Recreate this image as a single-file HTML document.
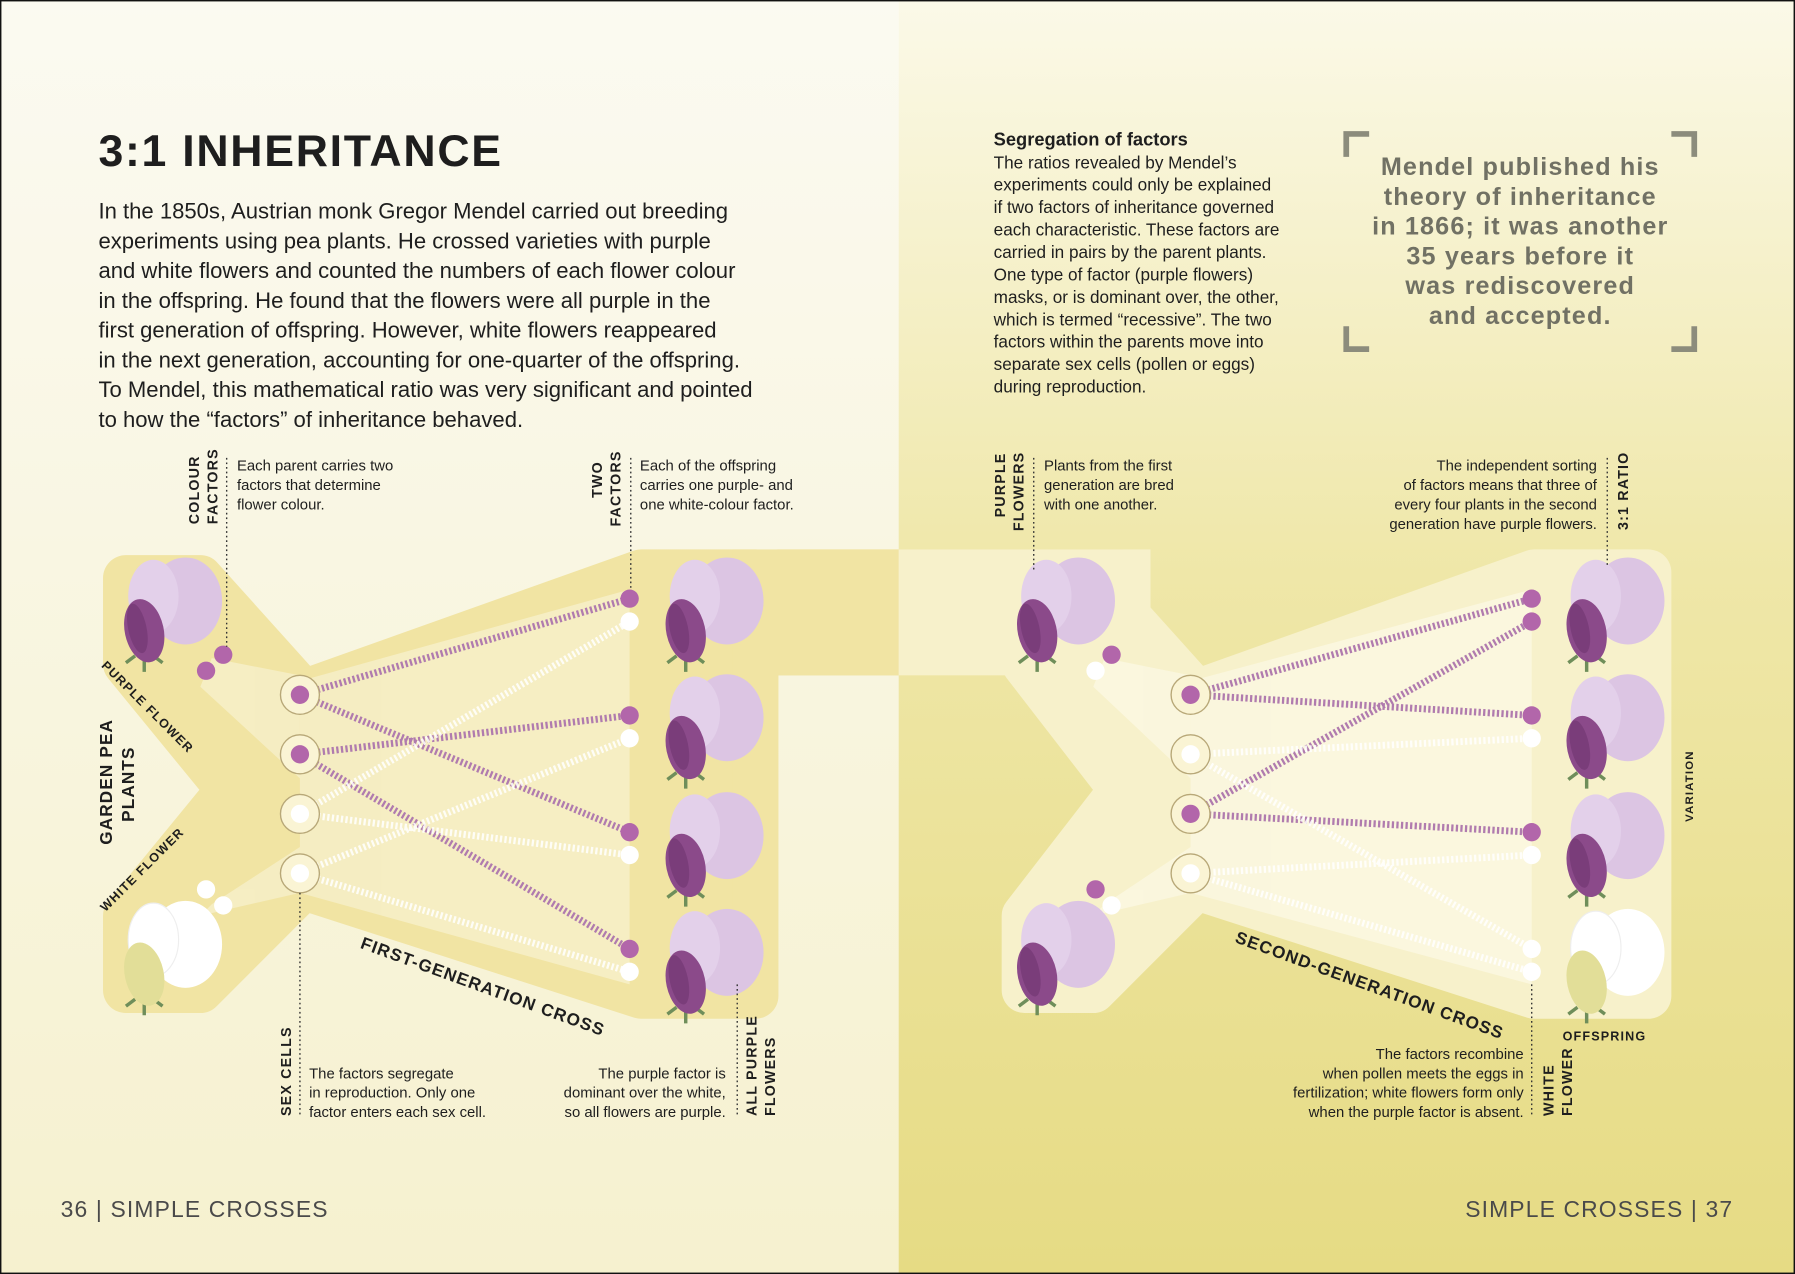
<!DOCTYPE html>
<html><head><meta charset="utf-8"><style>
html,body{margin:0;padding:0;background:#fff}
svg{display:block}
text{font-family:"Liberation Sans",sans-serif;fill:#1e1e1e}
.b{font-size:19.3px}
.s{font-size:13px}
.r{font-size:15px}
.v{font-size:12.5px;font-weight:bold;letter-spacing:1px}
text.q,.q text{font-size:22px;font-weight:bold;fill:#717164;letter-spacing:1px}
</style></head><body>
<svg width="1795" height="1274" viewBox="0 0 1568 1113" preserveAspectRatio="none" xmlns="http://www.w3.org/2000/svg">
<defs>
<linearGradient id="gl" x1="0" y1="0" x2="0" y2="1"><stop offset="0" stop-color="#fbfaf1"/><stop offset="1" stop-color="#f6f1cf"/></linearGradient>
<linearGradient id="gr" x1="0" y1="0" x2="0" y2="1"><stop offset="0" stop-color="#fbf9e8"/><stop offset="0.45" stop-color="#efe7a8"/><stop offset="1" stop-color="#e6db84"/></linearGradient>
<g id="fp"><ellipse cx="22" cy="-10" rx="32" ry="38" fill="#dcc5e3"/><ellipse cx="-6" cy="-14" rx="22" ry="32" fill="#e3d0ea"/><path d="M-22 38 l-8 6 M-14 40 l0 12 M-6 38 l8 6" stroke="#6f8e5a" stroke-width="3"/><ellipse cx="-14" cy="16" rx="17" ry="28" fill="#8b4a8a" transform="rotate(-12 -14 16)"/><ellipse cx="-20" cy="14" rx="8" ry="22" fill="#7a3d7a" transform="rotate(-12 -20 14)"/></g>
<g id="fw"><ellipse cx="22" cy="-10" rx="32" ry="38" fill="#fff"/><ellipse cx="-6" cy="-14" rx="22" ry="32" fill="#fff" stroke="#eee" /><path d="M-22 38 l-8 6 M-14 40 l0 12 M-6 38 l8 6" stroke="#6f8e5a" stroke-width="3"/><ellipse cx="-14" cy="16" rx="17" ry="28" fill="#e2de98" transform="rotate(-12 -14 16)"/></g>
</defs>
<rect x="0" y="0" width="785" height="1113" fill="url(#gl)"/>
<rect x="785" y="0" width="783" height="1113" fill="url(#gr)"/>
<rect x="0.5" y="0.5" width="1567" height="1112" fill="none" stroke="#111" stroke-width="1.5"/>

<g fill="#f1e4a3" stroke="#f1e4a3" stroke-width="40" stroke-linejoin="round">
<polygon points="110,505 175,505 265,605 560,500 660,500 660,870 560,870 265,775 175,865 110,865 110,800 200,690 110,580"/>
<rect x="680" y="500" width="300" height="70"/>
</g>
<rect x="640" y="480" width="150" height="110" fill="#f1e4a3"/>
<g fill="#f7f1cb" stroke="#f7f1cb" stroke-width="40" stroke-linejoin="round">
<polygon points="895,505 955,505 1045,605 1340,500 1440,500 1440,870 1340,870 1045,775 955,865 895,865 895,800 980,690 895,580"/>
</g>
<rect x="785" y="480" width="220" height="110" fill="#f7f1cb"/>
<g fill="#f8f2d0" opacity="0.7">
<polygon points="185,575 262,590 262,680 175,600"/><polygon points="185,790 262,740 262,780 175,800"/>
<polygon points="262,595 550,515 550,860 262,780"/>
</g>
<g fill="#fcf9e6" opacity="0.7">
<polygon points="965,575 1040,590 1040,680 955,600"/><polygon points="965,790 1040,740 1040,780 955,800"/>
<polygon points="1040,595 1338,515 1338,860 1040,780"/>
</g>
<g stroke-width="6" stroke-dasharray="2 2" fill="none">
<g stroke="#b07bae"><path d="M262 607L550 523M262 607L550 727M262 659L550 625M262 659L550 829"/>
<path d="M1040 607L1338 523M1040 607L1338 625M1040 711L1338 543M1040 711L1338 727"/></g>
<g stroke="#ffffff" opacity="0.85"><path d="M262 711L550 543M262 711L550 747M262 763L550 645M262 763L550 849"/>
<path d="M1040 659L1338 645M1040 659L1338 829M1040 763L1338 747M1040 763L1338 849"/></g>
</g>
<g fill="#faf4d4" stroke="#b8a878" stroke-width="1.2">
<circle cx="262" cy="607" r="17"/><circle cx="262" cy="659" r="17"/><circle cx="262" cy="711" r="17"/><circle cx="262" cy="763" r="17"/>
<circle cx="1040" cy="607" r="17"/><circle cx="1040" cy="659" r="17"/><circle cx="1040" cy="711" r="17"/><circle cx="1040" cy="763" r="17"/>
</g>
<g fill="#b266aa">
<circle cx="262" cy="607" r="8"/><circle cx="262" cy="659" r="8"/><circle cx="1040" cy="607" r="8"/><circle cx="1040" cy="711" r="8"/>
<circle cx="195" cy="572" r="8"/><circle cx="180" cy="586" r="8"/><circle cx="971" cy="572" r="8"/><circle cx="957" cy="777" r="8"/>
<circle cx="550" cy="523" r="8"/><circle cx="550" cy="625" r="8"/><circle cx="550" cy="727" r="8"/><circle cx="550" cy="829" r="8"/>
<circle cx="1338" cy="523" r="8"/><circle cx="1338" cy="543" r="8"/><circle cx="1338" cy="625" r="8"/><circle cx="1338" cy="727" r="8"/>
</g>
<g fill="#fff">
<circle cx="262" cy="711" r="8"/><circle cx="262" cy="763" r="8"/><circle cx="1040" cy="659" r="8"/><circle cx="1040" cy="763" r="8"/>
<circle cx="180" cy="777" r="8"/><circle cx="195" cy="791" r="8"/><circle cx="957" cy="586" r="8"/><circle cx="971" cy="791" r="8"/>
<circle cx="550" cy="543" r="8"/><circle cx="550" cy="645" r="8"/><circle cx="550" cy="747" r="8"/><circle cx="550" cy="849" r="8"/>
<circle cx="1338" cy="645" r="8"/><circle cx="1338" cy="747" r="8"/><circle cx="1338" cy="829" r="8"/><circle cx="1338" cy="849" r="8"/>
</g>
<use href="#fp" x="140" y="535"/><use href="#fw" x="140" y="835"/>
<use href="#fp" x="613" y="535"/><use href="#fp" x="613" y="637"/><use href="#fp" x="613" y="740"/><use href="#fp" x="613" y="842"/>
<use href="#fp" x="920" y="535"/><use href="#fp" x="920" y="835"/>
<use href="#fp" x="1400" y="535"/><use href="#fp" x="1400" y="637"/><use href="#fp" x="1400" y="740"/><use href="#fw" x="1400" y="842"/>

<g stroke="#333" stroke-width="1.2" stroke-dasharray="1.5 2.5" fill="none">
<path d="M198 400V565M551 400V515M903 400V500M1404 400V495M262 780V975M644 860V975M1338 860V975"/>
</g>

<text x="86" y="145" style="font-size:39px;font-weight:bold;letter-spacing:1.5px">3:1 INHERITANCE</text>
<g class="b">
<text x="86" y="191">In the 1850s, Austrian monk Gregor Mendel carried out breeding</text>
<text x="86" y="217">experiments using pea plants. He crossed varieties with purple</text>
<text x="86" y="243">and white flowers and counted the numbers of each flower colour</text>
<text x="86" y="269">in the offspring. He found that the flowers were all purple in the</text>
<text x="86" y="295">first generation of offspring. However, white flowers reappeared</text>
<text x="86" y="321">in the next generation, accounting for one-quarter of the offspring.</text>
<text x="86" y="347">To Mendel, this mathematical ratio was very significant and pointed</text>
<text x="86" y="373">to how the “factors” of inheritance behaved.</text>
</g>
<text x="868" y="127" style="font-size:16px;font-weight:bold">Segregation of factors</text>
<g class="r">
<text x="868" y="147">The ratios revealed by Mendel’s</text>
<text x="868" y="166.6">experiments could only be explained</text>
<text x="868" y="186.2">if two factors of inheritance governed</text>
<text x="868" y="205.8">each characteristic. These factors are</text>
<text x="868" y="225.4">carried in pairs by the parent plants.</text>
<text x="868" y="245">One type of factor (purple flowers)</text>
<text x="868" y="264.6">masks, or is dominant over, the other,</text>
<text x="868" y="284.2">which is termed “recessive”. The two</text>
<text x="868" y="303.8">factors within the parents move into</text>
<text x="868" y="323.4">separate sex cells (pollen or eggs)</text>
<text x="868" y="343">during reproduction.</text>
</g>
<g class="q" text-anchor="middle">
<text x="1328" y="153">Mendel published his</text>
<text x="1328" y="179">theory of inheritance</text>
<text x="1328" y="205">in 1866; it was another</text>
<text x="1328" y="231">35 years before it</text>
<text x="1328" y="257">was rediscovered</text>
<text x="1328" y="283">and accepted.</text>
</g>
<g stroke="#8c8c7c" stroke-width="5" fill="none">
<path d="M1176 137V117H1196M1460 117H1480V137M1176 285V305H1196M1460 305H1480V285"/>
</g>
<g class="s">
<text x="207" y="411">Each parent carries two</text><text x="207" y="428">factors that determine</text><text x="207" y="445">flower colour.</text>
<text x="559" y="411">Each of the offspring</text><text x="559" y="428">carries one purple- and</text><text x="559" y="445">one white-colour factor.</text>
<text x="912" y="411">Plants from the first</text><text x="912" y="428">generation are bred</text><text x="912" y="445">with one another.</text>
<g text-anchor="end"><text x="1395" y="411">The independent sorting</text><text x="1395" y="428">of factors means that three of</text><text x="1395" y="445">every four plants in the second</text><text x="1395" y="462">generation have purple flowers.</text></g>
<text x="270" y="942">The factors segregate</text><text x="270" y="959">in reproduction. Only one</text><text x="270" y="976">factor enters each sex cell.</text>
<g text-anchor="end"><text x="634" y="942">The purple factor is</text><text x="634" y="959">dominant over the white,</text><text x="634" y="976">so all flowers are purple.</text>
<text x="1331" y="925">The factors recombine</text><text x="1331" y="942">when pollen meets the eggs in</text><text x="1331" y="959">fertilization; white flowers form only</text><text x="1331" y="976">when the purple factor is absent.</text></g>
</g>
<g class="v">
<text transform="translate(174,458) rotate(-90)">COLOUR</text><text transform="translate(190,458) rotate(-90)">FACTORS</text>
<text transform="translate(526,435) rotate(-90)">TWO</text><text transform="translate(542,460) rotate(-90)">FACTORS</text>
<text transform="translate(878,452) rotate(-90)">PURPLE</text><text transform="translate(894,464) rotate(-90)">FLOWERS</text>
<text transform="translate(1422,463) rotate(-90)">3:1 RATIO</text>
<text transform="translate(254,975) rotate(-90)">SEX CELLS</text>
<text transform="translate(661,975) rotate(-90)">ALL PURPLE</text><text transform="translate(677,975) rotate(-90)">FLOWERS</text>
<text transform="translate(1357,975) rotate(-90)">WHITE</text><text transform="translate(1373,975) rotate(-90)">FLOWER</text>
<text transform="translate(1479,718) rotate(-90)" style="font-size:10px">VARIATION</text>
<text x="1365" y="909" style="font-size:11px">OFFSPRING</text>
<text transform="translate(98,738) rotate(-90)" style="font-size:15px">GARDEN PEA</text>
<text transform="translate(117,718) rotate(-90)" style="font-size:15px">PLANTS</text>
<text transform="translate(88,582) rotate(45)" style="font-size:11px">PURPLE FLOWER</text>
<text transform="translate(92,797) rotate(-45)" style="font-size:11px">WHITE FLOWER</text>
<text transform="translate(314,828) rotate(20)" style="font-size:15px">FIRST-GENERATION CROSS</text>
<text transform="translate(1078,823) rotate(20)" style="font-size:15px">SECOND-GENERATION CROSS</text>
</g>
<text x="53" y="1063" style="font-size:20px;fill:#4a4a4a;letter-spacing:1px">36 | SIMPLE CROSSES</text>
<text x="1514" y="1063" text-anchor="end" style="font-size:20px;fill:#4a4a4a;letter-spacing:1px">SIMPLE CROSSES | 37</text>
</svg>
</body></html>
